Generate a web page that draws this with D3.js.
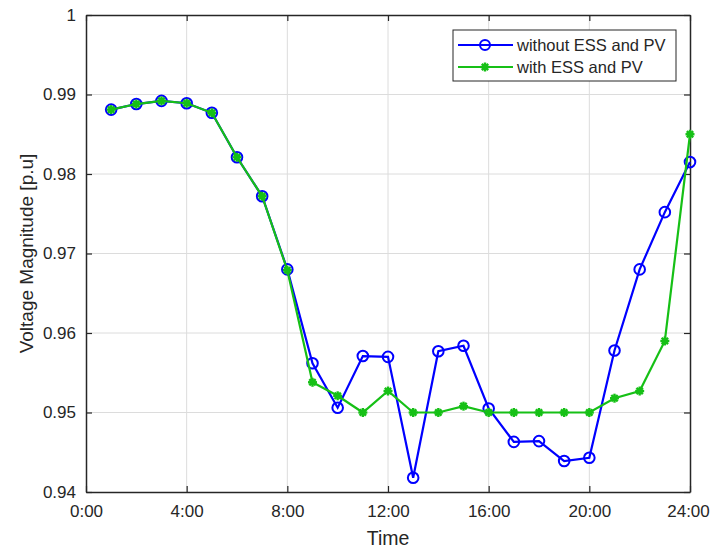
<!DOCTYPE html>
<html>
<head>
<meta charset="utf-8">
<script src="https://cdn.jsdelivr.net/npm/d3@7"></script>
<style>
  body { margin: 0; background: #fff; }
  text { font-family: Arial, "Liberation Sans", sans-serif; fill: #262626; }
</style>
</head>
<body>
<div id="chart"></div>
<script>
// hours of the day
const hours = [1,2,3,4,5,6,7,8,9,10,11,12,13,14,15,16,17,18,19,20,21,22,23,24];
const withoutEssPv = [0.9881,0.9888,0.9892,0.9889,0.9877,0.9821,0.9772,0.9680,0.9562,0.9506,0.9571,0.9570,0.9418,0.9577,0.9584,0.9505,0.9463,0.9464,0.9439,0.9443,0.9578,0.9680,0.9752,0.9815];
const withEssPv = [0.9881,0.9888,0.9892,0.9889,0.9877,0.9821,0.9772,0.9679,0.9538,0.9521,0.9500,0.9527,0.9500,0.9500,0.9508,0.9500,0.9500,0.9500,0.9500,0.9500,0.9518,0.9527,0.9590,0.9850];
const xTicks = [0,4,8,12,16,20,24];
const xTickLabels = ["0:00","4:00","8:00","12:00","16:00","20:00","24:00"];
const yTicks = [0.94,0.95,0.96,0.97,0.98,0.99,1];
const seriesNames = ["without ESS and PV","with ESS and PV"];

const width = 711, height = 549;
const margin = {left: 86, top: 15, right: 21, bottom: 57};

const svg = d3.select("#chart").append("svg")
    .attr("width", width)
    .attr("height", height);

const x = d3.scaleLinear().domain([0, 24]).range([margin.left, width - margin.right]);
const y = d3.scaleLinear().domain([0.94, 1]).range([height - margin.bottom, margin.top]);

const x0 = x.range()[0], x1 = x.range()[1];
const y0 = y.range()[0], y1 = y.range()[1];

// grid
svg.append("g").selectAll("line")
    .data(xTicks.slice(1, -1))
    .enter().append("line")
    .attr("x1", d => x(d)).attr("x2", d => x(d))
    .attr("y1", y1).attr("y2", y0)
    .attr("stroke", "#dcdcdc").attr("stroke-width", 1);
svg.append("g").selectAll("line")
    .data(yTicks.slice(1, -1))
    .enter().append("line")
    .attr("x1", x0).attr("x2", x1)
    .attr("y1", d => y(d)).attr("y2", d => y(d))
    .attr("stroke", "#dcdcdc").attr("stroke-width", 1);

// axes
const xAxis = d3.axisBottom(x).tickValues(xTicks).tickSizeInner(-6).tickSizeOuter(0).tickPadding(13)
    .tickFormat((d, i) => xTickLabels[i]);
const gx = svg.append("g").attr("transform", `translate(0,${y0})`).call(xAxis);
const yAxis = d3.axisLeft(y).tickValues(yTicks).tickSizeInner(-6).tickSizeOuter(0).tickPadding(10)
    .tickFormat(d => d === 1 ? "1" : d3.format(".2f")(d));
const gy = svg.append("g").attr("transform", `translate(${x0},0)`).call(yAxis);
const gxt = svg.append("g").attr("transform", `translate(0,${y1})`)
    .call(d3.axisTop(x).tickValues(xTicks).tickSizeInner(-6).tickSizeOuter(0).tickFormat(""));
const gyr = svg.append("g").attr("transform", `translate(${x1},0)`)
    .call(d3.axisRight(y).tickValues(yTicks).tickSizeInner(-6).tickSizeOuter(0).tickFormat(""));

[gx, gy, gxt, gyr].forEach(g => {
    g.select(".domain").attr("stroke", "#262626").attr("stroke-width", 1.5);
    g.selectAll(".tick line").attr("stroke", "#262626").attr("stroke-width", 1.2);
    g.selectAll(".tick text").attr("font-size", "17px").attr("fill", "#262626")
        .attr("font-family", "Arial, 'Liberation Sans', sans-serif");
});
// keep the last x label inside the window
gx.selectAll(".tick text").filter(d => d === 24).attr("dx", -2);

// axis labels
svg.append("text")
    .attr("x", (x0 + x1) / 2).attr("y", 545)
    .attr("text-anchor", "middle")
    .attr("font-size", "19.5px")
    .text("Time");
svg.append("text")
    .attr("transform", `translate(33,${(y0 + y1) / 2}) rotate(-90)`)
    .attr("text-anchor", "middle")
    .attr("font-size", "19px")
    .text("Voltage Magnitude [p.u]");

// lines
const line = d3.line().x(d => x(d[0])).y(d => y(d[1]));
const blueData = hours.map((h, i) => [h, withoutEssPv[i]]);
const greenData = hours.map((h, i) => [h, withEssPv[i]]);
const blue = "#0000ff", green = "#16c016";

svg.append("path").datum(blueData)
    .attr("d", line).attr("fill", "none")
    .attr("stroke", blue).attr("stroke-width", 2.2);
svg.append("g").selectAll("circle")
    .data(blueData).enter().append("circle")
    .attr("cx", d => x(d[0])).attr("cy", d => y(d[1]))
    .attr("r", 5.3).attr("fill", "none")
    .attr("stroke", blue).attr("stroke-width", 2);

svg.append("path").datum(greenData)
    .attr("d", line).attr("fill", "none")
    .attr("stroke", green).attr("stroke-width", 2.2);

function asterisk(g, cx, cy, r) {
    for (let k = 0; k < 4; k++) {
        const a = k * Math.PI / 4;
        g.append("line")
            .attr("x1", cx - r * Math.cos(a)).attr("y1", cy - r * Math.sin(a))
            .attr("x2", cx + r * Math.cos(a)).attr("y2", cy + r * Math.sin(a))
            .attr("stroke", green).attr("stroke-width", 2.4);
    }
    g.append("circle").attr("cx", cx).attr("cy", cy).attr("r", 3).attr("fill", green);
}
const gm = svg.append("g");
greenData.forEach(d => asterisk(gm, x(d[0]), y(d[1]), 4.5));

// legend
const lg = svg.append("g").attr("transform", "translate(453,30)");
lg.append("rect").attr("width", 223).attr("height", 51)
    .attr("fill", "#fff").attr("stroke", "#262626").attr("stroke-width", 1);
lg.append("line").attr("x1", 5).attr("x2", 60).attr("y1", 15).attr("y2", 15)
    .attr("stroke", blue).attr("stroke-width", 2.2);
lg.append("circle").attr("cx", 32).attr("cy", 15).attr("r", 5)
    .attr("fill", "none").attr("stroke", blue).attr("stroke-width", 2);
lg.append("line").attr("x1", 5).attr("x2", 60).attr("y1", 37).attr("y2", 37)
    .attr("stroke", green).attr("stroke-width", 2.2);
asterisk(lg, 32, 37, 4.5);
lg.selectAll("text.lbl").data(seriesNames).enter().append("text")
    .attr("class", "lbl")
    .attr("x", 64).attr("y", (d, i) => 21 + i * 22)
    .attr("font-size", "16.5px")
    .text(d => d);
</script>
</body>
</html>
